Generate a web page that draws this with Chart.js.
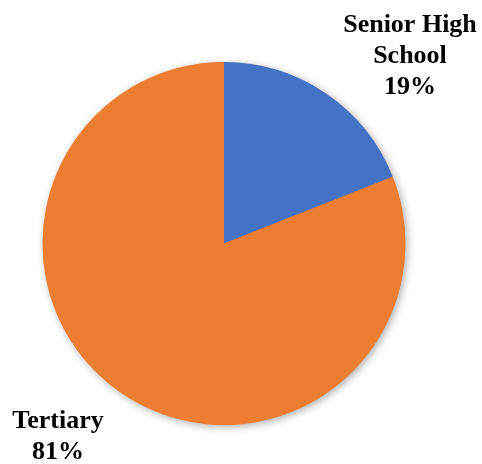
<!DOCTYPE html>
<html>
<head>
<meta charset="utf-8">
<script src="https://cdn.jsdelivr.net/npm/chart.js@4/dist/chart.umd.min.js"></script>
<style>
  html, body { margin: 0; padding: 0; background: #fff; }
  #wrap { width: 482px; height: 464px; position: relative; }
</style>
</head>
<body>
<div id="wrap"><canvas id="pie"></canvas></div>
<script>
const categories = ['Senior High School', 'Tertiary'];
const shares = [19, 81];
const colors = ['#4472C4', '#ED7D31'];

// label text split over lines, and the baseline of each block's first line
const labelLines = [['Senior High', 'School'], ['Tertiary']];
const labelAnchors = [{ x: 410, y: 32 }, { x: 58, y: 428 }];

// soft drop shadow under the whole pie
const pieShadow = {
  id: 'pieShadow',
  beforeDatasetsDraw(chart) {
    const arc = chart.getDatasetMeta(0).data[0];
    if (!arc) return;
    const ctx = chart.ctx;
    ctx.save();
    ctx.shadowColor = 'rgba(0,0,0,0.35)';
    ctx.shadowBlur = 9;
    ctx.shadowOffsetX = 2;
    ctx.shadowOffsetY = 2;
    ctx.fillStyle = '#ED7D31';
    ctx.beginPath();
    ctx.arc(arc.x, arc.y, arc.outerRadius - 0.5, 0, Math.PI * 2);
    ctx.fill();
    ctx.restore();
  }
};

const sliceLabels = {
  id: 'sliceLabels',
  afterDraw(chart) {
    const ctx = chart.ctx;
    ctx.save();
    ctx.fillStyle = '#000';
    ctx.font = 'bold 26px "Liberation Serif", "Times New Roman", serif';
    ctx.textAlign = 'center';
    ctx.textBaseline = 'alphabetic';
    chart.data.datasets[0].data.forEach((v, i) => {
      const lines = labelLines[i].concat([v + '%']);
      const a = labelAnchors[i];
      lines.forEach((t, j) => ctx.fillText(t, a.x, a.y + j * 31));
    });
    ctx.restore();
  }
};

new Chart(document.getElementById('pie'), {
  type: 'pie',
  data: {
    labels: categories,
    datasets: [{
      data: shares,
      backgroundColor: colors,
      borderWidth: 0
    }]
  },
  options: {
    responsive: true,
    maintainAspectRatio: false,
    animation: false,
    layout: { padding: { left: 42, right: 76, top: 62, bottom: 39 } },
    plugins: {
      legend: { display: false },
      tooltip: { enabled: false }
    }
  },
  plugins: [pieShadow, sliceLabels]
});
</script>
</body>
</html>
